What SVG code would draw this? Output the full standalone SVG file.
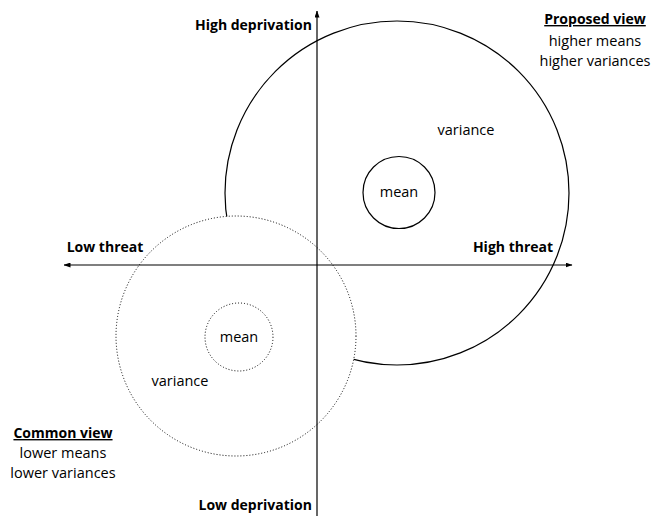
<svg xmlns="http://www.w3.org/2000/svg" width="653" height="517" viewBox="0 0 653 517">
<defs>
<marker id="arr" viewBox="0 0 7 5" refX="6.5" refY="2.5" markerWidth="7" markerHeight="5" markerUnits="userSpaceOnUse" orient="auto">
<path d="M0,0 L7,2.5 L0,5 Z" fill="#000"/>
</marker>
<style>
text{font-family:"Open Sans","Noto Sans",sans-serif;font-size:14.5px;fill:#000}
.b{font-weight:bold;font-size:14px}
.u{text-decoration:underline}
.solid{fill:none;stroke:#000;stroke-width:1.2}
.dot{fill:#fff;stroke:#000;stroke-width:1;stroke-dasharray:1 2}
.axis{stroke:#000;stroke-width:1.2;fill:none}
</style>
</defs>
<rect width="653" height="517" fill="#fff"/>
<g id="proposed-variance">
<circle class="solid" cx="397" cy="193" r="172"/>
<text x="466" y="135" text-anchor="middle">variance</text>
</g>
<g id="proposed-mean">
<circle class="solid" cx="399" cy="192.5" r="36"/>
<text x="399" y="197" text-anchor="middle">mean</text>
</g>
<g id="common-variance">
<circle class="dot" cx="236" cy="336" r="120"/>
<text x="180" y="386" text-anchor="middle">variance</text>
</g>
<g id="common-mean">
<circle class="dot" cx="239" cy="337" r="34"/>
<text x="239" y="342" text-anchor="middle">mean</text>
</g>
<g id="connectors">
<line class="axis" x1="317" y1="516" x2="317" y2="11" marker-end="url(#arr)"/>
<line class="axis" x1="317" y1="265" x2="64" y2="265" marker-end="url(#arr)"/>
<line class="axis" x1="317" y1="265" x2="572" y2="265" marker-end="url(#arr)"/>
</g>
<g id="axis-labels">
<text class="b" x="312" y="30" text-anchor="end">High deprivation</text>
<text class="b" x="312" y="510" text-anchor="end">Low deprivation</text>
<text class="b" x="105" y="252" text-anchor="middle">Low threat</text>
<text class="b" x="513" y="252" text-anchor="middle">High threat</text>
</g>
<g id="proposed-view">
<text class="b u" x="595" y="24" text-anchor="middle">Proposed view</text>
<text x="595" y="46" text-anchor="middle">higher means</text>
<text x="595" y="66" text-anchor="middle">higher variances</text>
</g>
<g id="common-view">
<text class="b u" x="63" y="438" text-anchor="middle">Common view</text>
<text x="63" y="458" text-anchor="middle">lower means</text>
<text x="63" y="478" text-anchor="middle">lower variances</text>
</g>
</svg>
